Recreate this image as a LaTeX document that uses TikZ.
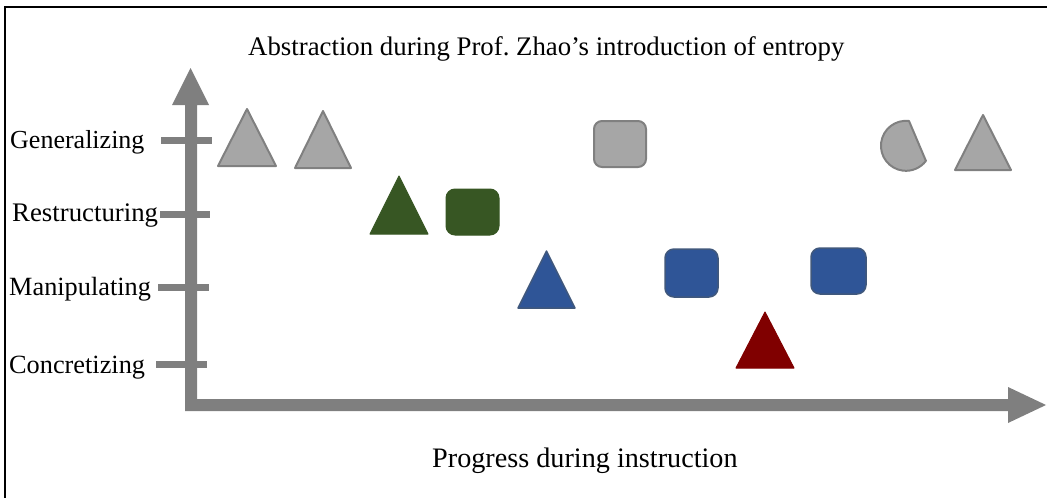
\documentclass[tikz,border=0pt]{standalone}
\usepackage{fontspec}
\setmainfont{Liberation Serif}
\frenchspacing
\begin{document}
\begin{tikzpicture}[x=1pt,y=-1pt,
  lbl/.style={anchor=base west,inner sep=0pt,font=\fontsize{26}{30}\selectfont},
  axis/.style={fill=axisgray,draw=none},
  tick/.style={draw=axisgray,line width=7pt},
  greyshape/.style={fill=shapegray,draw=edgegray,line width=2pt,line join=round},
  blueshape/.style={fill=shapeblue,draw=edgeblue,line width=1.5pt,line join=round},
  greenshape/.style={fill=shapegreen,draw=shapegreen,line width=1pt,line join=round},
  redshape/.style={fill=shapered,draw=shapered,line width=1pt,line join=round}]
\definecolor{axisgray}{HTML}{7F7F7F}
\definecolor{shapegray}{HTML}{A6A6A6}
\definecolor{edgegray}{HTML}{808080}
\definecolor{shapeblue}{HTML}{2F5597}
\definecolor{edgeblue}{HTML}{40587C}
\definecolor{shapegreen}{HTML}{375623}
\definecolor{shapered}{HTML}{800000}
\useasboundingbox (0,0) rectangle (1047,498);
% frame (top and left edges)
\draw[line width=2pt] (5,498) -- (5,7) -- (1047,7);
% title and axis label
\node[lbl,font=\fontsize{26.8}{30}\selectfont] (title) at (248,55) {Abstraction during Prof. Zhao’s introduction of entropy};
\node[lbl,font=\fontsize{28.2}{32}\selectfont] (xlabel) at (432,467) {Progress during instruction};
% axes
\fill[axis] (185,405) -- (185,105) -- (172,105) -- (190.5,68) -- (209,105) -- (197,105) -- (197,399)
  -- (1008,399) -- (1008,387) -- (1046,405) -- (1008,423) -- (1008,411) -- (185,411) -- cycle;
% level ticks and labels
\draw[tick] (161,140.5) -- (212,140.5);
\draw[tick] (160,214.5) -- (210,214.5);
\draw[tick] (158,287) -- (209,287);
\draw[tick] (156,364.5) -- (207,364.5);
\node[lbl] (gen) at (10,148) {Generalizing};
\node[lbl,font=\fontsize{26.8}{30}\selectfont] (res) at (12,221) {Restructuring};
\node[lbl,font=\fontsize{26.3}{30}\selectfont] (man) at (9,295) {Manipulating};
\node[lbl,font=\fontsize{26.3}{30}\selectfont] (con) at (9,373) {Concretizing};
% generalizing
\draw[greyshape] (218,166) -- (247,109) -- (276,166) -- cycle;
\draw[greyshape] (295,168) -- (323,111) -- (351,168) -- cycle;
\draw[greyshape,rounded corners=8pt] (594,121) rectangle (646,167);
\draw[greyshape] (909,121) arc[start angle=-83,end angle=-323,radius=25] -- cycle;
\draw[greyshape] (955,170) -- (983,115) -- (1011,170) -- cycle;
% restructuring
\draw[greenshape] (370,234) -- (399,176) -- (428,234) -- cycle;
\draw[greenshape,rounded corners=9pt] (446,189) rectangle (499,235);
% manipulating
\draw[blueshape] (518,308) -- (546.5,251) -- (575,308) -- cycle;
\draw[blueshape,rounded corners=9pt] (665,249) rectangle (718,297);
\draw[blueshape,rounded corners=9pt] (811,248) rectangle (866,294);
% concretizing
\draw[redshape] (736,368) -- (765,312) -- (794,368) -- cycle;
\end{tikzpicture}
\end{document}
